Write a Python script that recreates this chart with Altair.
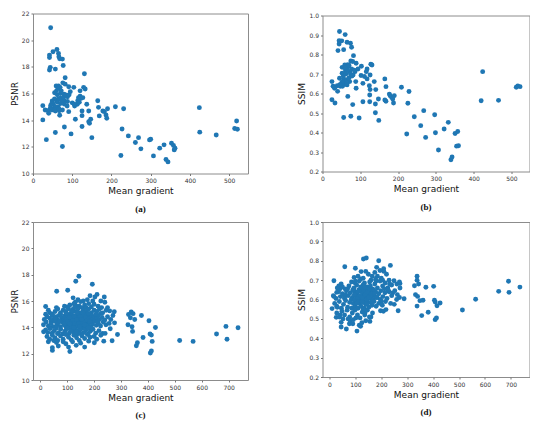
import altair as alt
import pandas as pd

# ---------------- data ----------------
# (a) Mean gradient vs PSNR
points_a = [
    (45, 20.93), (61, 19.3), (51, 19.13), (65, 19.0), (42, 18.88), (42, 18.7), (66, 18.76), (68, 18.6),
    (75, 18.58), (77, 18.1), (44, 17.96), (42, 17.76), (57, 17.83), (131, 17.48), (82, 17.18),
    (59, 16.56), (65, 16.56), (69, 16.46), (76, 16.8), (82, 16.7), (91, 16.51), (104, 16.46), (129, 16.46),
    (133, 16.34), (120, 16.2), (95, 16.14), (55, 16.06), (70, 16.0), (62, 15.9), (79, 15.94), (88, 15.76),
    (120, 15.8), (70, 15.64), (59, 15.51), (49, 15.44), (73, 15.5), (80, 15.44), (114, 15.46), (123, 15.64),
    (116, 15.69), (127, 15.69), (137, 15.19), (165, 15.46), (113, 15.19), (106, 15.06), (87, 15.06),
    (64, 15.0), (54, 14.89), (25, 15.09), (44, 14.89), (31, 14.76), (38, 14.71), (48, 14.76), (40, 14.51),
    (57, 14.69), (67, 14.71), (75, 14.76), (91, 14.64), (167, 14.96), (169, 14.32), (178, 14.69),
    (182, 14.64), (190, 14.86), (186, 14.39), (188, 14.14), (142, 14.69), (125, 14.69), (108, 14.07),
    (68, 14.37), (25, 14.02), (125, 14.34), (142, 13.89), (147, 14.07), (144, 13.77), (125, 13.52),
    (80, 13.49), (210, 15.01), (231, 14.86), (227, 13.34), (97, 12.97), (57, 13.07), (34, 12.54),
    (150, 12.69), (75, 12.02), (243, 12.82), (269, 12.69), (261, 12.32), (275, 11.85), (300, 12.57),
    (297, 12.52), (323, 11.9), (334, 12.15), (353, 12.27), (358, 12.1), (360, 11.77), (362, 11.9),
    (224, 11.35), (307, 11.32), (339, 11.05), (344, 10.87), (425, 13.1), (424, 14.94), (467, 12.89),
    (514, 13.37), (519, 13.94), (521, 13.32),
    (52, 15.2), (58, 15.0), (62, 15.35), (66, 15.6), (70, 15.25), (74, 15.45), (78, 15.7), (55, 15.6),
    (48, 15.25), (60, 16.2), (64, 16.4), (72, 16.2), (84, 15.9), (88, 15.4), (45, 15.1), (56, 14.75),
    (66, 14.85), (80, 15.2), (92, 15.9), (100, 15.3), (118, 15.35), (105, 15.2),
]

# (b) Mean gradient vs SSIM
points_b = [
    (45, 0.918), (60, 0.902), (44, 0.871), (51, 0.870), (44, 0.854), (65, 0.863), (74, 0.858), (77, 0.837),
    (41, 0.82), (56, 0.825), (82, 0.794), (75, 0.767), (80, 0.764), (67, 0.748), (59, 0.746), (89, 0.755),
    (103, 0.740), (128, 0.75), (131, 0.746), (52, 0.734), (69, 0.738), (77, 0.726), (61, 0.717), (72, 0.712),
    (86, 0.712), (94, 0.726), (118, 0.726), (116, 0.712), (52, 0.704), (81, 0.695), (102, 0.692),
    (126, 0.695), (111, 0.687), (118, 0.675), (137, 0.661), (45, 0.678), (56, 0.675), (65, 0.671),
    (72, 0.661), (61, 0.649), (47, 0.637), (39, 0.64), (28, 0.637), (25, 0.661), (32, 0.627), (40, 0.611),
    (53, 0.637), (65, 0.644), (88, 0.661), (107, 0.652), (124, 0.64), (126, 0.62), (141, 0.62), (165, 0.675),
    (168, 0.635), (89, 0.627), (67, 0.585), (25, 0.568), (33, 0.551), (80, 0.543), (107, 0.558),
    (125, 0.592), (125, 0.558), (148, 0.572), (140, 0.546), (165, 0.567), (168, 0.56), (177, 0.597),
    (179, 0.589), (183, 0.58), (186, 0.572), (188, 0.551), (190, 0.589), (209, 0.632), (229, 0.61),
    (226, 0.55), (140, 0.501), (56, 0.477), (75, 0.483), (97, 0.474), (149, 0.462), (243, 0.481),
    (268, 0.512), (297, 0.491), (260, 0.435), (223, 0.392), (273, 0.375), (299, 0.399), (322, 0.418),
    (333, 0.452), (351, 0.395), (358, 0.405), (307, 0.31), (355, 0.33), (360, 0.332), (340, 0.26),
    (343, 0.274), (420, 0.563), (424, 0.712), (466, 0.565), (513, 0.632), (517, 0.639), (523, 0.635),
    (55, 0.69), (62, 0.70), (70, 0.68), (58, 0.66), (64, 0.65), (74, 0.70), (50, 0.65), (66, 0.72),
    (78, 0.69), (84, 0.72), (60, 0.73), (70, 0.745), (52, 0.66), (46, 0.645),
]

# (c) Mean gradient vs PSNR (larger set)
points_c = [
    (143.6, 17.88), (132, 17.5), (193.5, 17.27), (61, 16.74), (102, 16.82),
    (185, 16.4), (203, 16.3), (238, 16.3), (122, 16.24), (211, 16.5), (160, 16.0), (175, 16.1), (195, 16.0),
    (225, 16.0), (140, 16.1), (150, 15.95), (130, 15.9),
    (20, 15.58), (240, 15.9), (60, 15.5), (90, 15.6), (110, 15.7), (125, 15.8), (145, 15.6), (165, 15.7),
    (180, 15.8), (200, 15.75), (215, 15.6), (228, 15.5), (250, 15.5), (100, 15.55), (155, 15.5), (170, 15.5),
    (190, 15.55), (135, 15.6),
    (30, 15.3), (45, 15.0), (55, 15.2), (75, 15.1), (85, 15.3), (95, 15.2), (105, 15.4), (115, 15.1),
    (120, 15.35), (130, 15.2), (140, 15.4), (150, 15.1), (160, 15.3), (170, 15.2), (180, 15.4), (190, 15.1),
    (200, 15.3), (210, 15.2), (220, 15.4), (232, 15.1), (245, 15.3), (258, 15.25), (275, 15.18), (65, 15.4),
    (145, 15.0), (185, 15.0), (225, 15.05), (110, 15.0), (35, 15.1), (20, 15.0),
    (15, 14.6), (25, 14.8), (35, 14.7), (45, 14.9), (50, 14.6), (60, 14.8), (65, 14.55), (70, 14.9),
    (80, 14.7), (85, 14.55), (90, 14.85), (95, 14.65), (100, 14.95), (105, 14.6), (110, 14.8), (115, 14.55),
    (120, 14.9), (125, 14.7), (130, 14.6), (135, 14.85), (140, 14.65), (145, 14.95), (150, 14.55),
    (155, 14.8), (160, 14.7), (165, 14.9), (170, 14.6), (175, 14.8), (180, 14.55), (185, 14.75), (190, 14.9),
    (195, 14.6), (200, 14.8), (205, 14.55), (210, 14.7), (215, 14.9), (220, 14.6), (230, 14.75),
    (240, 14.55), (250, 14.8), (262, 14.6), (270, 14.9), (76, 14.95), (142, 14.52), (118, 14.68),
    (172, 14.98), (206, 14.98), (56, 14.7), (40, 14.5),
    (12, 14.2), (22, 14.4), (30, 14.1), (40, 14.3), (48, 14.05), (55, 14.45), (62, 14.2), (68, 14.35),
    (75, 14.05), (82, 14.4), (88, 14.2), (94, 14.45), (100, 14.1), (106, 14.3), (112, 14.15), (118, 14.45),
    (124, 14.25), (128, 14.05), (134, 14.35), (140, 14.15), (146, 14.45), (152, 14.2), (158, 14.35),
    (164, 14.05), (170, 14.4), (176, 14.2), (182, 14.35), (188, 14.05), (194, 14.25), (200, 14.45),
    (208, 14.15), (216, 14.3), (224, 14.1), (234, 14.4), (244, 14.2), (256, 14.3), (276, 14.34), (36, 14.0),
    (96, 14.0), (156, 14.0), (212, 14.45), (132, 14.48), (72, 14.48),
    (12.5, 13.66), (20, 13.8), (28, 13.6), (36, 13.9), (44, 13.55), (52, 13.75), (60, 13.95), (68, 13.6),
    (76, 13.85), (84, 13.5), (92, 13.7), (100, 13.9), (108, 13.55), (116, 13.8), (124, 13.65), (130, 13.95),
    (138, 13.5), (146, 13.75), (154, 13.9), (162, 13.6), (170, 13.8), (178, 13.5), (186, 13.7), (196, 13.85),
    (206, 13.55), (218, 13.75), (231, 13.54), (241, 13.54), (260, 13.89), (120, 13.98), (150, 13.52),
    (190, 13.95), (64, 13.52),
    (25, 13.3), (35, 13.1), (45, 13.4), (55, 13.2), (65, 13.0), (75, 13.35), (85, 13.1), (95, 13.45),
    (105, 13.25), (115, 13.05), (125, 13.4), (135, 13.2), (145, 13.0), (155, 13.35), (165, 13.15),
    (175, 13.45), (185, 13.25), (200, 13.3), (210, 13.1), (225, 13.4), (287, 13.46), (267, 12.98), (50, 13.0),
    (45, 12.25), (45, 12.45), (67, 12.58), (110, 12.17), (133.5, 12.63), (165, 12.5), (201, 12.83),
    (236, 12.95), (85, 12.9), (95, 12.75), (60, 12.85), (120, 12.9), (150, 12.8), (180, 12.95), (105, 12.5),
    (30, 12.9),
    (92, 14.3), (98, 14.6), (104, 13.95), (108, 14.75), (112, 14.4), (116, 14.0), (122, 14.55), (126, 14.85),
    (128, 14.3), (132, 13.8), (136, 14.6), (138, 14.1), (142, 14.9), (144, 14.3), (148, 13.85), (152, 14.65),
    (156, 14.25), (160, 14.95), (162, 14.45), (166, 13.9), (168, 14.75), (172, 14.1), (174, 14.55),
    (178, 13.95), (180, 15.05), (184, 14.45), (96, 15.05), (102, 14.4), (118, 15.2), (128, 15.55),
    (138, 15.1), (148, 14.8), (158, 15.15), (114, 13.75), (134, 13.65), (154, 14.6), (164, 14.2),
    (124, 14.0), (110, 14.25), (146, 14.05),
    (328, 14.98), (338, 15.16), (345, 15.04), (335, 14.72), (351, 14.6), (326, 14.2), (341, 14.04),
    (343, 13.69), (376, 14.9), (404, 14.5), (382, 13.23), (361, 12.83), (357, 12.6), (408, 13.5),
    (413, 13.41), (416, 12.93), (428, 13.99), (409, 12.05), (413, 12.2), (518, 13.0), (568, 12.93),
    (655, 13.49), (690, 14.07), (694, 13.1), (735, 13.97),
]

# (d) Mean gradient vs SSIM (larger set)
points_d = [
    (131, 0.809), (142, 0.814), (190, 0.80), (59, 0.769), (100, 0.761), (235, 0.776), (182, 0.766),
    (209, 0.759), (122, 0.744), (95, 0.714), (17, 0.697),
    (10, 0.553), (17, 0.616), (28, 0.565), (26, 0.508), (41, 0.52), (45, 0.482), (45, 0.458), (65, 0.448),
    (77, 0.475), (92, 0.496), (106, 0.437), (115, 0.467), (120, 0.462), (156, 0.487), (154, 0.51),
    (137, 0.53), (36, 0.67), (41, 0.656), (28, 0.637), (197, 0.542), (208, 0.539), (218, 0.548),
    (265, 0.542), (288, 0.604), (272, 0.659), (272, 0.682), (249, 0.697), (244, 0.634), (259, 0.6),
    (200, 0.591), (58, 0.613), (99, 0.685),
    (110, 0.72), (130, 0.71), (150, 0.73), (160, 0.70), (175, 0.74), (185, 0.72), (200, 0.71), (210, 0.745),
    (220, 0.73), (230, 0.70), (140, 0.745), (195, 0.75), (165, 0.72), (205, 0.70), (120, 0.705), (178, 0.705),
    (30, 0.66), (45, 0.68), (60, 0.655), (75, 0.67), (85, 0.69), (95, 0.66), (105, 0.675), (115, 0.695),
    (125, 0.66), (135, 0.685), (145, 0.665), (155, 0.69), (165, 0.655), (175, 0.68), (185, 0.66),
    (195, 0.695), (205, 0.67), (215, 0.685), (225, 0.66), (240, 0.675), (260, 0.68), (270, 0.69),
    (50, 0.665), (100, 0.695), (140, 0.655), (180, 0.695), (212, 0.655), (232, 0.68), (130, 0.675),
    (70, 0.655),
    (15, 0.62), (25, 0.605), (35, 0.64), (42, 0.615), (50, 0.63), (58, 0.605), (65, 0.645), (72, 0.62),
    (80, 0.635), (88, 0.61), (94, 0.645), (100, 0.62), (106, 0.635), (112, 0.605), (118, 0.645),
    (124, 0.62), (130, 0.635), (136, 0.61), (142, 0.645), (148, 0.62), (154, 0.635), (160, 0.605),
    (166, 0.645), (172, 0.62), (178, 0.64), (184, 0.61), (190, 0.63), (198, 0.645), (206, 0.615),
    (214, 0.635), (222, 0.605), (230, 0.64), (240, 0.62), (252, 0.645), (262, 0.625), (270, 0.61),
    (84, 0.60), (120, 0.60), (150, 0.65), (196, 0.60), (226, 0.65), (62, 0.625), (102, 0.60), (168, 0.60),
    (20, 0.58), (30, 0.56), (38, 0.59), (46, 0.555), (54, 0.575), (62, 0.595), (70, 0.56), (78, 0.585),
    (86, 0.555), (92, 0.58), (98, 0.565), (104, 0.595), (110, 0.555), (116, 0.58), (122, 0.565),
    (128, 0.595), (134, 0.555), (140, 0.575), (146, 0.59), (152, 0.56), (158, 0.585), (164, 0.57),
    (172, 0.59), (180, 0.565), (190, 0.58), (204, 0.57), (216, 0.59), (236, 0.58), (250, 0.575),
    (96, 0.598), (132, 0.585), (112, 0.59),
    (28, 0.53), (38, 0.51), (48, 0.54), (58, 0.52), (68, 0.545), (78, 0.51), (88, 0.53), (98, 0.545),
    (108, 0.52), (118, 0.505), (126, 0.535), (136, 0.52), (146, 0.545), (160, 0.51), (166, 0.53),
    (52, 0.5), (72, 0.5), (102, 0.505), (130, 0.55), (80, 0.49), (90, 0.475), (125, 0.48), (140, 0.49),
    (102, 0.63), (108, 0.61), (114, 0.65), (118, 0.62), (124, 0.64), (128, 0.61), (132, 0.65), (138, 0.625),
    (144, 0.6), (148, 0.64), (152, 0.61), (156, 0.655), (162, 0.625), (166, 0.59), (170, 0.65), (106, 0.58),
    (126, 0.59), (144, 0.575), (120, 0.665), (136, 0.665), (158, 0.67), (110, 0.64), (96, 0.625),
    (90, 0.65), (174, 0.63), (180, 0.61),
    (338, 0.72), (338, 0.70), (344, 0.68), (328, 0.671), (332, 0.625), (340, 0.616), (349, 0.594),
    (372, 0.663), (402, 0.668), (361, 0.596), (405, 0.596), (408, 0.587), (427, 0.582), (415, 0.568),
    (338, 0.566), (356, 0.517), (381, 0.534), (413, 0.505), (408, 0.496),
    (513, 0.546), (564, 0.601), (653, 0.642), (691, 0.694), (693, 0.637), (735, 0.664),
]

captions = ["(a)", "(b)", "(c)", "(d)"]
psnr_ticks = [10, 12, 14, 16, 18, 20, 22]
ssim_ticks = [0.2, 0.3, 0.4, 0.5, 0.6, 0.7, 0.8, 0.9, 1.0]
grad_ticks_ab = [0, 100, 200, 300, 400, 500]
grad_ticks_cd = [0, 100, 200, 300, 400, 500, 600, 700]

BLUE = "#1f77b4"


def panel(points, ytitle, xdom, ydom, xticks, yticks, yfmt, caption, w, h, ytp):
    df = pd.DataFrame(points, columns=["g", "v"])
    return (
        alt.Chart(df)
        .mark_circle(size=24, color=BLUE, opacity=1)
        .encode(
            x=alt.X("g:Q", scale=alt.Scale(domain=xdom, nice=False, zero=False),
                    axis=alt.Axis(values=xticks, format="d", title="Mean gradient", titlePadding=3)),
            y=alt.Y("v:Q", scale=alt.Scale(domain=ydom, nice=False, zero=False),
                    axis=alt.Axis(values=yticks, format=yfmt, title=ytitle, titlePadding=ytp)),
        )
        .properties(width=w, height=h, title=alt.Title(caption, orient="bottom", offset=9))
    )


pa = panel(points_a, "PSNR", [0, 548], [10, 22], grad_ticks_ab, psnr_ticks, "d", captions[0], 215, 160, 2)
pb = panel(points_b, "SSIM", [0, 548], [0.2, 1.0], grad_ticks_ab, ssim_ticks, ".1f", captions[1], 207, 156, 2.5)
pc = panel(points_c, "PSNR", [-27, 772], [10, 22], grad_ticks_cd, psnr_ticks, "d", captions[2], 215, 158, 2)
pd_ = panel(points_d, "SSIM", [-27, 772], [0.2, 1.0], grad_ticks_cd, ssim_ticks, ".1f", captions[3], 207, 155, 2.5)

chart = (
    alt.concat(pa, pb, pc, pd_, columns=2, spacing={"row": 48.5, "column": 74.5}, bounds="flush", center=True)
    .properties(padding={"left": 1, "top": 1.5, "right": 0, "bottom": 0})
    .configure_view(stroke="#8c8c8c", strokeWidth=1)
    .configure_axis(
        domain=False, grid=False, tickColor="#777", tickSize=2, labelPadding=2,
        labelFont="DejaVu Sans", labelFontSize=6, labelColor="#333", labelFlush=False,
        titleFont="DejaVu Sans", titleFontSize=9, titleFontWeight="normal", titleColor="#111",
    )
    .configure_title(font="Liberation Serif", fontSize=9, fontWeight="bold", color="#111", anchor="middle")
)

chart.save("out.html", embed_options={"renderer": "svg", "actions": False})
